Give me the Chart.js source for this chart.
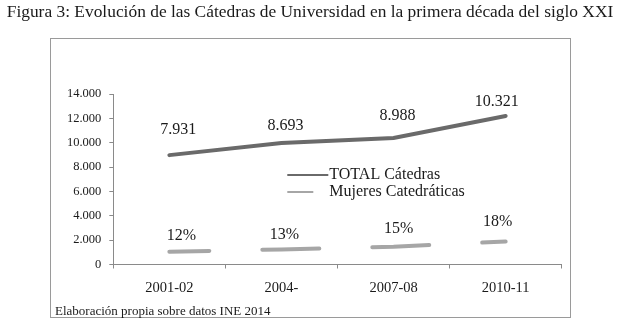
<!DOCTYPE html>
<html>
<head>
<meta charset="utf-8">
<script src="https://cdn.jsdelivr.net/npm/chart.js@4/dist/chart.umd.min.js"></script>
<style>
  body { margin: 0; background: #fff; }
  #wrap { width: 620px; height: 324px; }
</style>
</head>
<body>
<div id="wrap"><canvas id="chart" width="620" height="324"></canvas></div>
<script>
const categories = ["2001-02", "2004-", "2007-08", "2010-11"];
const totalCatedras = [8980, 9970, 10380, 12200];
const mujeresCatedraticas = [1050, 1240, 1460, 1890];
const totalLabels = ["7.931", "8.693", "8.988", "10.321"];
const pctLabels = ["12%", "13%", "15%", "18%"];
const yTicks = [0, 2000, 4000, 6000, 8000, 10000, 12000, 14000];

const titleText = "Figura 3: Evolución de las Cátedras de Universidad en la primera década del siglo XXI";
const footerText = "Elaboración propia sobre datos INE 2014";

const SERIF = "'Liberation Serif', 'Times New Roman', serif";
const DARK = "#6a6a6a";
const LIGHT = "#a6a6a6";

// label offsets from each point (px), as in the original figure
const totalOffsets = [[9, -25], [4, -17], [4, -22], [-9, -14]];
const pctOffsets = [[12, -16], [3, -15], [5, -18], [-8, -20]];

function fmt(v) {
  return v.toLocaleString("de-DE");
}

const decorations = {
  id: "decorations",
  beforeDraw(chart) {
    const ctx = chart.ctx;
    ctx.save();
    ctx.fillStyle = "#fff";
    ctx.fillRect(0, 0, chart.width, chart.height);
    // title
    ctx.fillStyle = "#1a1a1a";
    ctx.font = "17.4px " + SERIF;
    ctx.textAlign = "center";
    ctx.textBaseline = "alphabetic";
    ctx.fillText(titleText, 310, 16.5);
    // frame
    ctx.strokeStyle = "#9a9a9a";
    ctx.lineWidth = 1;
    ctx.strokeRect(50.5, 38.5, 520, 279);
    ctx.restore();
  },
  afterDatasetsDraw(chart) {
    const ctx = chart.ctx;
    const area = chart.chartArea;
    ctx.save();
    ctx.fillStyle = "#1a1a1a";
    ctx.font = "16px " + SERIF;
    ctx.textAlign = "center";
    ctx.textBaseline = "middle";
    chart.getDatasetMeta(0).data.forEach((pt, i) => {
      ctx.fillText(totalLabels[i], pt.x + totalOffsets[i][0], pt.y + totalOffsets[i][1]);
    });
    chart.getDatasetMeta(1).data.forEach((pt, i) => {
      ctx.fillText(pctLabels[i], pt.x + pctOffsets[i][0], pt.y + pctOffsets[i][1]);
    });

    // legend inside plot
    const lx = area.left + 174;
    const ly = area.top + 81;
    ctx.lineWidth = 2;
    ctx.strokeStyle = DARK;
    ctx.beginPath();
    ctx.moveTo(lx, ly);
    ctx.lineTo(lx + 41, ly);
    ctx.stroke();
    ctx.strokeStyle = LIGHT;
    ctx.beginPath();
    ctx.moveTo(lx, ly + 17);
    ctx.lineTo(lx + 26, ly + 17);
    ctx.stroke();
    ctx.textAlign = "left";
    ctx.font = "16px " + SERIF;
    ctx.fillText(chart.data.datasets[0].label, lx + 42, ly);
    ctx.fillText(chart.data.datasets[1].label, lx + 42, ly + 17);

    // footer
    ctx.font = "13px " + SERIF;
    ctx.textBaseline = "alphabetic";
    ctx.fillText(footerText, 55, 315);
    ctx.restore();
  }
};

new Chart(document.getElementById("chart").getContext("2d"), {
  type: "line",
  data: {
    labels: categories,
    datasets: [
      {
        label: "TOTAL Cátedras",
        data: totalCatedras,
        borderColor: DARK,
        backgroundColor: DARK,
        borderWidth: 4,
        pointRadius: 0,
        tension: 0,
        borderCapStyle: "round"
      },
      {
        label: "Mujeres Catedráticas",
        data: mujeresCatedraticas,
        borderColor: LIGHT,
        backgroundColor: LIGHT,
        borderWidth: 4,
        pointRadius: 0,
        tension: 0,
        borderCapStyle: "round",
        borderDash: [57, 53],
        borderDashOffset: 17
      }
    ]
  },
  options: {
    responsive: false,
    devicePixelRatio: 1,
    animation: false,
    layout: { padding: { left: 51, right: 58.3, top: 94, bottom: 6 } },
    plugins: {
      legend: { display: false },
      tooltip: { enabled: false }
    },
    scales: {
      x: {
        offset: true,
        grid: { display: true, offset: true, drawOnChartArea: false, tickLength: 4, color: "#8a8a8a" },
        border: { display: true, color: "#8a8a8a" },
        ticks: { padding: 11, color: "#1a1a1a", font: { family: SERIF, size: 14.5 } },
        afterFit(scale) { scale.height = 53.5; }
      },
      y: {
        min: 0,
        max: 14000,
        afterBuildTicks(scale) { scale.ticks = yTicks.map((v) => ({ value: v })); },
        grid: { display: true, drawOnChartArea: false, tickLength: 4, color: "#8a8a8a" },
        border: { display: true, color: "#8a8a8a" },
        ticks: { padding: 8, color: "#1a1a1a", font: { family: SERIF, size: 12.5 }, callback: (v) => fmt(v) },
        afterFit(scale) { scale.width = 62.3; }
      }
    }
  },
  plugins: [decorations]
});
</script>
</body>
</html>
